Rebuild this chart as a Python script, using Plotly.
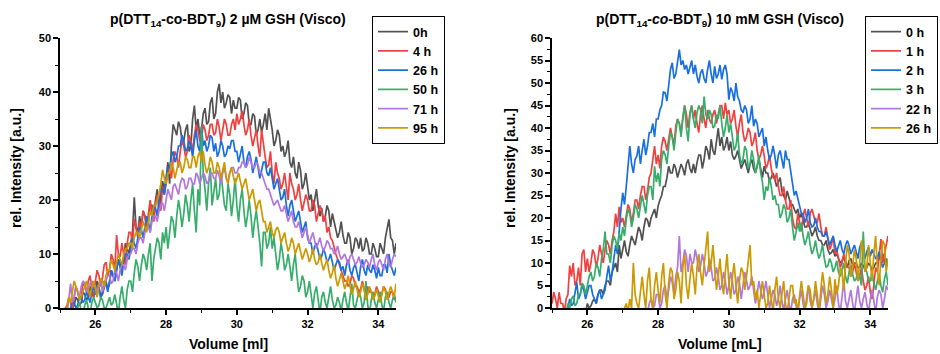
import plotly.graph_objects as go

# Elution volume grid [mL], 25.00 ... 34.50 in 0.05 mL steps
VOLUME = [round(25.0 + 0.05 * i, 2) for i in range(191)]

# ---------- Left panel: 2 µM GSH ----------
LEFT_LABELS = ["0h", "4 h", "26 h", "50 h", "71 h", "95 h"]
L_0h = [-3, -3, -3, -2, -2, -1, -1, 0, 0.5, 2, 1.5, 0.5, 1, 3, 2.5, 1.5, 2, 4, 3, 2,
        3, 5, 4, 2, 2.5, 4, 5, 3.5, 4.5, 7, 6, 5, 7, 9, 8.5, 7, 9, 12, 11, 10,
        12, 14, 20.5, 15, 14, 17, 15, 18, 17, 15, 16, 19, 19, 17, 20, 22, 18, 21, 23.5, 22,
        24, 27, 23, 30, 34, 33, 32, 34.5, 33.5, 31, 31, 33, 34, 29, 30, 35, 37.5, 33, 35, 32,
        33, 36, 37, 34, 34.5, 38, 39, 35, 36, 40, 41.5, 38, 40, 37, 38, 39.5, 39, 36, 38.5, 37,
        37, 39, 38.5, 35, 36, 38, 37.5, 34, 34, 36, 35.5, 32, 33, 35, 32.5, 34, 36, 33, 37, 35,
        33, 30, 31, 33, 32, 29, 30, 28, 29, 31, 27, 26, 28, 25, 24, 27, 25.5, 22, 23, 25,
        22, 20, 21, 18, 20, 22, 19, 17, 18.5, 16, 17, 19, 18, 15, 17.5, 16, 15, 13, 14, 16,
        13.5, 12, 12, 14, 13, 10, 11, 13, 12.5, 11, 13, 10.5, 11, 13, 12, 10, 10, 12, 11, 9.5,
        9.5, 12, 11, 10, 13, 15, 16.4, 13, 12.5, 10, 12]
L_4h = [-2, -1, -1, 0, 0.5, 2, 1, -0.5, 2, 4, 3, 1.5, 2, 5, 4, 3, 5, 6, 3.5, 2,
        5, 7, 6, 4, 5.5, 8, 8.5, 6, 7, 10, 9, 7, 13.5, 10, 9.5, 12, 10, 8, 12, 14,
        14, 12, 16.5, 15, 13, 16, 15, 18, 17, 15, 18, 20, 17.5, 16, 19, 21, 20, 18, 22.5, 21,
        23, 25, 26, 24, 27.5, 29, 28, 26, 29, 31, 30, 28, 29, 32, 31, 29, 32, 34, 33, 31,
        31, 34, 33, 31, 32, 34, 34, 32, 32.5, 35, 33.5, 31, 33, 35, 34, 32, 32, 34, 35, 33,
        36, 34, 35, 36.5, 34, 32, 33, 35, 32, 30, 31.5, 33, 30, 28, 33, 30, 28, 26, 26.5, 29,
        25, 23, 27, 25, 24, 22, 23, 25, 22, 20, 25, 23, 22, 20, 21, 23, 20, 18, 19.5, 21,
        20, 18, 18, 20, 19, 16, 17.5, 19, 18, 16, 17, 14, 15, 13, 12.5, 11, 10, 9, 8, 7,
        6, 5, 5, 4, 4.5, 6, 5.5, 4, 4, 3, 3.5, 5, 3.4, 2, 4, 3, 3, 2, 2.5, 4,
        3, 2, 2.5, 4, 3.5, 2, 2, 3, 3, 1.5, 2]
L_26h = [-3, -3, -2, -2, -1, -0.5, 0, 1, 1, 0, 0.5, 2, 2, 1, 1.5, 3, 2, 1, 3, 4,
         2.5, 4, 3.5, 2, 3, 5, 4.5, 3, 5, 7, 6, 5, 7, 9, 7.5, 6, 8.5, 10, 10, 9,
         11, 13, 12, 11, 13, 15, 14.5, 13, 15, 17, 16, 14, 17, 19, 18.5, 17, 20, 22, 22, 21,
         24, 26, 26, 28, 29, 27, 28, 30, 30, 32, 31, 29, 29.5, 31, 30, 28, 31, 33, 30, 29,
         33.6, 30, 31, 29, 30, 32, 31.5, 29, 30.5, 28, 29, 31, 30, 28, 28.5, 30, 29.5, 31, 31, 29,
         29, 27, 28.5, 30, 27, 26, 28, 29, 27.5, 25, 26.5, 28, 26, 24, 25.5, 27, 27, 25, 24.5, 26,
         24, 22, 23, 24, 22, 20, 20.5, 22, 19, 17, 19, 20, 18, 16, 17, 18, 16, 14, 15, 16,
         13, 12, 12, 10, 11.4, 12, 10.5, 9, 9.6, 11, 10, 8.5, 9, 10, 8.5, 7, 8, 9, 8.5, 7,
         7.7, 6, 8, 9, 7, 6, 7.5, 8, 6.5, 5, 7.7, 9, 7, 6, 8, 7, 6.5, 8, 7, 5.5,
         7.5, 6, 6, 8, 8, 6.5, 10, 8, 7, 6, 7.5]
L_50h = [-3, -3, -3, -2, -2, -1, -1, 0, -1, -2, 0, 1, -0.5, -1, 0.5, 1.5, 0, -1, 1, 2,
         1, 0, 0.5, 2, 1.5, 0, 0, 1, 2, 0.5, 1, 2.5, 0.5, -1, 2, 4, 1.5, 0, 3.4, 5,
         5, 3, 6.5, 9, 7.7, 5, 8, 10, 9, 7, 10, 12, 5, 9, 11, 13, 12, 9, 14, 12,
         15, 11, 14, 17, 16, 13, 17, 20, 18, 15, 17.5, 21, 19, 16, 20, 23, 18, 14, 22, 19,
         33.6, 25, 22, 18, 23, 26, 19, 22, 24, 20, 21, 25, 22.5, 19, 18, 23, 21, 17, 20, 24,
         19, 16, 20, 22, 18, 15, 17, 20, 17, 13, 16, 18, 15, 12, 7.7, 14, 14, 11, 12, 15,
         11, 13, 10, 7, 9, 12, 10, 7, 8, 10, 7.7, 5, 8, 10, 6, 3, 4, 6, 5, 2,
         3, 5, 2.5, 0, 2.8, 4, 1.5, -1, 2, 3, 1, 0, 2, 4, 1.5, 0, 0.5, 2, 1, -0.5,
         1.5, 3, 1, -0.5, 2, 4.5, 0.5, 0, 1.5, 3, 2, 0, 1, 5, 0.5, -1, 1.5, 3, 1, 0,
         1.5, 3, 0.5, -0.5, 2, 3, 1, 0, 1.5, 2.5, 1]
L_71h = [-3, -3, -2, -1, -1, 2, 4.5, 1, 2, 4, 3, 2, 4, 5, 4.5, 3, 3.5, 4.5, 5, 4,
         4, 3, 4.5, 5, 3, 4, 5, 6, 6, 4.5, 5, 7, 6.5, 5, 7, 8, 8, 7, 9, 10,
         10, 11, 11, 10, 12, 13, 13, 12, 14, 15, 15, 14, 16, 17, 17, 16, 18, 19, 19.5, 18,
         20, 22, 21, 20, 22.5, 23, 22, 21, 23, 24, 23.8, 22, 22.5, 24, 24, 23, 23, 25, 24.4, 23,
         24, 25, 24.4, 23, 23.5, 25, 25, 24, 24, 25.5, 24.5, 23, 25, 26, 24, 23.5, 25, 26, 26, 25,
         25, 26, 26, 27, 27, 26, 26.5, 28, 27, 26, 26, 27, 26.5, 25, 25, 24, 23, 22, 22, 21,
         20, 19, 19.5, 20, 19, 18, 18, 19, 17.5, 16, 17, 18, 16, 15, 15, 16, 14.5, 13, 14, 15,
         13.5, 12, 13, 14, 12.5, 11, 12, 13, 11.5, 10.5, 11.4, 12.5, 12, 11, 11, 10, 10.5, 11.5, 10, 9,
         9.5, 10, 9, 8, 9.5, 10, 9, 8, 8.5, 9.5, 8.3, 7.5, 8, 9, 8.5, 7.5, 9, 10, 8, 7,
         8.5, 9, 8, 7, 9, 10, 8.3, 7.5, 9, 10, 9.5]
L_95h = [-3, -3, -2, -1, 0, 2, 1, 3, 5, 4, 3, 1.5, 2, 3, 4, 5, 3.5, 2, 4, 5,
         3.5, 2, 4, 5.5, 5, 4, 6, 7, 7, 9, 8, 7, 8.5, 10, 9, 8, 10, 11, 11, 12,
         12, 11, 13, 14, 14, 13, 14.5, 16, 15, 14, 16, 18, 17, 19, 19, 20, 21, 23, 25.6, 24,
         23, 25, 25, 27, 26, 24, 25.5, 27, 27, 25, 26, 28, 27.5, 26, 26, 28, 28, 26, 28, 29,
         27, 29, 26.5, 25, 26, 28, 27, 25, 25, 27, 26, 24, 25.5, 27, 24, 23, 25, 26, 24.4, 23,
         24, 25, 23.5, 22, 23, 24, 22, 20, 21, 22, 20, 18, 19.4, 20, 18, 16, 16, 14, 15, 16,
         14, 13, 14.5, 15, 14, 12, 13, 14, 12, 10.5, 11.4, 13, 12, 10, 11, 12, 10.5, 9, 10, 11,
         10, 8.5, 9.5, 11, 9, 8, 8.5, 10, 8.3, 7, 8, 9, 7, 5.5, 6.5, 8, 5.5, 4, 5.2, 6.5,
         5, 3.5, 4.5, 6, 4, 2.5, 3.5, 5, 3.4, 2, 3, 4.5, 3.5, 1.5, 2.5, 4, 3, 1.5, 2.2, 3.5,
         2.2, 1, 2.5, 4, 3, 1.5, 2.8, 4, 3, 2, 4.5]

# ---------- Right panel: 10 mM GSH ----------
RIGHT_LABELS = ["0 h", "1 h", "2 h", "3 h", "22 h", "26 h"]
R_0h = [-3, -3, -3, -3, -3, -3, -3, -3, -2, -3, -2, -2, -2, -2, -1, -2, -1, -1, 0, -1,
        1, 0, 0.5, 1.5, 2, 1, 3, 4, 4, 3, 5, 6, 6, 5, 8, 9, 10, 8, 14, 11,
        13, 15, 12.5, 11.5, 14, 16, 15, 14, 16, 18, 17, 15, 18, 20, 19.5, 18, 20, 21, 22, 20,
        22.7, 24, 25, 27, 27, 29, 31.5, 30, 30, 32, 31, 29, 30.5, 32, 31, 29.5, 32, 33, 31, 30,
        32, 30, 32.3, 34, 34, 31, 33, 36, 35, 33, 37.5, 35, 34, 37, 40, 36, 38, 35, 36, 38,
        35, 37, 34, 33, 33.8, 35, 33, 31, 32, 33, 31.5, 30, 32, 33, 31, 30, 31.5, 33, 31, 29,
        31.5, 30, 30, 28, 29, 30, 28.6, 27, 28, 29, 26, 25, 24, 26, 24.5, 23, 23, 22, 21, 22,
        20, 21, 19.7, 18, 18, 19, 17.5, 16, 16.8, 18, 16, 15, 15, 14, 14, 15, 13, 12, 12.3, 13,
        11.5, 12, 11, 10, 10.5, 11.5, 10, 9, 10.5, 11, 9.5, 10, 10, 9, 9, 10, 9.4, 8.5, 9, 10,
        9.4, 8.5, 9, 10, 10, 11, 11, 12, 10.5, 9.5, 10.9]
R_1h = [1, 3.5, 2, 0, 3.5, 1, 1, -1, 2, 3, 9.4, 7, 10, 5, 6, 9, 5, 12, 13, 8,
        11, 8, 10, 13, 12, 9, 11, 14, 12, 10, 13, 15, 14, 12, 15, 17, 21, 18, 22.5, 19,
        20, 18, 20.5, 23, 22, 19, 21, 24, 24, 22, 25, 27, 27, 24, 26, 29, 30, 33, 36, 32,
        34, 31, 36, 38, 37, 35, 37.5, 40, 38, 36, 40.4, 42, 41, 39, 42, 45, 43, 40, 43.4, 45,
        42, 44, 41, 39, 43, 45, 42, 40, 44, 42, 41, 43, 44, 41, 43, 45, 45, 42, 45.6, 43,
        44, 41, 42, 44, 40.4, 38, 41, 43, 39, 37, 38, 40, 39, 36, 37, 39, 35, 33, 34, 36,
        33.8, 31, 32, 34, 31, 29, 28.6, 30, 27, 25, 25, 27, 24, 22, 22, 24, 20, 18, 17.5, 21,
        19, 17, 20.5, 22, 20, 18, 21, 22, 20.5, 19, 19, 21, 18, 16, 16, 18, 15.3, 13, 14, 16,
        12, 13, 11, 9, 10, 12, 10.5, 9, 9, 7, 8, 10, 7.9, 6, 7, 9, 6, 4, 5, 7,
        3.5, 2, 5, 9, 8, 12, 15.3, 10, 12, 14, 16]
R_2h = [-3, -3, -3, -3, -2, -3, -2, -1, -1, 0, 2, 0.5, 1, 3, 5.7, 2, 3, 5, 4, 2,
        3.5, 5, 5, 3, 2, 1, 3, 4, 2, 3, 4, 7, 9.4, 6, 8, 11, 14, 12, 18, 22,
        25.6, 23, 27, 31, 36, 32, 30, 33, 33.8, 36, 32, 35, 37.5, 34, 36, 39, 39, 41, 38, 42,
        42, 44, 45, 48, 47.8, 46, 50, 53, 54.5, 51, 52, 55, 57.4, 54, 55, 53, 54, 52, 53.7, 55,
        52, 54, 51.5, 50, 52.2, 53, 51, 50, 53, 55, 52, 50, 53.7, 51, 52, 54, 50.8, 53, 54, 52,
        46.3, 49, 48, 46, 50, 47, 46, 44, 43.4, 45, 44, 41, 42, 45, 40.4, 42, 41, 38, 39, 40,
        36, 38, 35, 33, 34, 36, 33.8, 31, 34, 35, 33, 31, 35, 33, 33, 30, 27, 25, 26, 24,
        22.7, 21, 21, 19, 20, 22, 19, 18, 18.3, 20, 18, 17, 17, 16, 16, 17, 15.3, 14, 15, 16,
        14, 12.5, 13.8, 15, 13, 12, 14, 15, 13.8, 12, 13, 14, 12.5, 11, 13.5, 14.5, 12, 11, 12.5, 13.5,
        11.5, 13, 12, 11, 11, 12.5, 10.5, 9, 10, 11, 9.4]
R_3h = [-3, -3, -3, -3, -3, -2, -2, -1, -1, 1, 0, 2, 2.7, 0.5, 1, 3, 3, 5.5, 5, 3,
        5, 7, 8, 6, 7, 10, 9, 7, 11, 13, 17, 12, 12, 10, 14, 16, 15, 13, 16.8, 15,
        18, 16, 19.7, 22, 21, 18, 20, 23, 22, 20, 22.7, 25, 23, 21, 25, 27, 27, 24, 31.5, 28,
        30, 27, 33, 35, 34, 32, 36, 39, 38, 35, 39, 42, 41, 38, 42.6, 45, 40, 37, 43, 45,
        42, 40, 43.4, 45, 44, 41, 47, 43, 42, 44, 43, 40, 40.4, 43, 42, 45, 41, 38, 40, 43,
        39, 41, 38, 35, 36, 39, 34, 32, 33, 36, 35, 31, 32, 35, 33, 30, 31.5, 34, 30, 28,
        24, 27, 26, 29, 27, 24, 25, 23, 23, 20, 21, 23, 22, 19, 20, 22, 18, 15, 16.8, 19,
        17, 19, 16, 14, 15.3, 17, 14, 12, 13, 15, 12.5, 11, 12.3, 14, 11, 9, 9.4, 11, 10, 8,
        9, 10.5, 8, 7, 8.5, 10, 7, 5.5, 8, 9.5, 7.5, 6, 6.5, 8, 7, 5, 17, 9, 8, 6,
        6, 8, 5.5, 4, 6, 7.5, 5, 3.5, 6.5, 8, 5]
R_22h = [-2, -2, -2, -2, -2, -2, -2, -2, -2, -2, -2, -2, -2, -2, -2, -2, -2, -2, -2, -2,
         -2, -2, -2, -2, -2, -2, -2, -2, -2, -2, -2, -2, -2, -2, -2, -2, -2, -2, -2, -2,
         -2, -2, -2, -2, -1, -2, -2, -2, -1, -2, -2, -2, 0, -1, -1, 1, 2, 0, 0.5, 3,
         3, 0, 1, 4, 5, 2, 4, 7, 5.7, 3, 7, 9, 16, 8, 10, 13, 11.6, 8, 12, 10,
         10, 13, 11, 8, 9.4, 12, 10, 7, 8, 11, 9, 6, 6.4, 9, 7, 4, 5, 8, 6, 3,
         5, 8, 6, 3, 4, 7, 5.5, 2, 5, 8, 6, 4, 5, 7, 4, 1, 3, 6, 4, 2,
         3.5, 6, 3, 0, 2, 4, 3, 0.5, 2, 5, 1.5, -0.5, 2, 4, 1, -1, 2, 3, 0.5, -1,
         2, 4, 1, -1, 2.5, 5, 1.5, 0, 2, 4, 1, -1, 2, 5, 3, 0, 1.5, 4, 2, 0,
         2, 5, 1, -1, 2.5, 6, 1.5, 0, 2, 4, 1, -1, 2, 5, 1.5, 0, 2, 3.5, 1, -1,
         2, 4, 1.5, -1, 2.5, 4, 3, 0, 2, 5, 4]
R_26h = [-2, -2, -2, -2, -2, -2, -2, -2, -2, -2, -2, -2, -2, -2, -2, -2, -2, -2, -2, -2,
         -2, -2, -2, -2, -2, -2, -2, -2, -2, -2, -2, -2, -2, -2, -2, -2, -2, -1, -1, 0,
         -1, 0, 1, -1, 2, 0, 10, 3, 1, 0, 4, 7, 3, 0, 6, 9, 2, 0, 5, 8,
         4, 1, 7, 10, 3, 0, 5.7, 9, 8, 2, 4, 8, 6, 1, 9, 12, 5, 2, 6.4, 10,
         7, 3, 9, 12, 8, 5, 9.4, 13, 17, 8, 10, 14, 8, 4, 7, 11, 6, 3, 8, 12,
         5.7, 2, 7, 10, 5, 1, 6, 9, 8, 4, 7, 11, 14, 5, 6, 2, 4, 0, 2.7, 6,
         3, 0, 1, 5, 2, -1, 4, 7, 2, 0, 3, 6, 1, -1, 2, 5, 5, 1, 2, -1,
         2.7, 6, 3, 0, 1, 5, 4, 0, 2, 6, 3, -1, 4, 8, 5, 1, 3, 7, 4, 0,
         6.4, 3, 5, 9, 8, 4, 10, 14, 12, 7, 9, 13, 11, 6, 10, 15, 13, 8, 9, 14,
         10, 6, 12, 16, 9, 5, 11, 15, 14, 8, 11]

COLORS = ["#515151", "#F14040", "#1A6FDF", "#37AD6B", "#B177DE", "#CC9900"]
FONT = "Liberation Sans, Arial, sans-serif"

fig = go.Figure()

left_series = [L_0h, L_4h, L_26h, L_50h, L_71h, L_95h]
right_series = [R_0h, R_1h, R_2h, R_3h, R_22h, R_26h]

for name, ys, c in zip(LEFT_LABELS, left_series, COLORS):
    fig.add_trace(go.Scatter(x=VOLUME[:len(ys)], y=ys, mode="lines", name=name,
                             line=dict(color=c, width=1.7),
                             xaxis="x", yaxis="y", legend="legend"))
for name, ys, c in zip(RIGHT_LABELS, right_series, COLORS):
    fig.add_trace(go.Scatter(x=VOLUME[:len(ys)], y=ys, mode="lines", name=name,
                             line=dict(color=c, width=1.7),
                             xaxis="x2", yaxis="y2", legend="legend2"))

tickfont = dict(family=FONT, size=11, color="black", weight="bold")

def xax(domain, anchor):
    return dict(domain=domain, anchor=anchor, range=[25, 34.5],
                tick0=26, dtick=2, showline=True, linecolor="black",
                linewidth=1.5, ticks="outside", ticklen=5, tickwidth=1.5,
                tickcolor="black", showgrid=False, zeroline=False,
                tickfont=tickfont, automargin=False,
                minor=dict(dtick=1, tick0=25, ticks="outside", ticklen=3,
                           tickwidth=1.2, tickcolor="black", showgrid=False))

def yax(domain, rng, dtick, mdtick, anchor):
    return dict(domain=domain, anchor=anchor, range=rng, tick0=0,
                dtick=dtick, showline=True, linecolor="black", linewidth=1.5,
                ticks="outside", ticklen=5, tickwidth=1.5, tickcolor="black",
                showgrid=False, zeroline=False, tickfont=tickfont,
                automargin=False,
                minor=dict(dtick=mdtick, tick0=0, ticks="outside", ticklen=3,
                           tickwidth=1.2, tickcolor="black", showgrid=False))

ydom = [46 / 354, 316 / 354]
legend_common = dict(bgcolor="white", bordercolor="black", borderwidth=1,
                     font=dict(family=FONT, size=12.5, color="black",
                               weight="bold"),
                     yanchor="top", xanchor="left", tracegroupgap=0,
                     itemwidth=30)

def note(text, x, y, size, angle=0):
    return dict(text=text, x=x / 940, y=1 - y / 354, xref="paper",
                yref="paper", showarrow=False, xanchor="center",
                yanchor="middle", textangle=angle,
                font=dict(family=FONT, size=size, color="black",
                          weight="bold"))

fig.update_layout(
    width=940, height=354,
    margin=dict(l=0, r=0, t=0, b=0),
    paper_bgcolor="white", plot_bgcolor="white",
    xaxis=xax([60 / 940, 396 / 940], "y"),
    yaxis=yax(ydom, [0, 50], 10, 5, "x"),
    xaxis2=xax([552 / 940, 888 / 940], "y2"),
    yaxis2=yax(ydom, [0, 60], 5, 2.5, "x2"),
    legend=dict(x=372 / 940, y=1 - 16 / 354, **legend_common),
    legend2=dict(x=865 / 940, y=1 - 16 / 354, **legend_common),
    annotations=[
        note("p(DTT<sub>14</sub>-co-BDT<sub>9</sub>) 2 µM GSH (Visco)", 228, 20, 14),
        note("p(DTT<sub>14</sub>-<i>co</i>-BDT<sub>9</sub>) 10 mM GSH (Visco)", 720, 20, 14),
        note("Volume [ml]", 228, 344, 14),
        note("Volume [mL]", 720, 344, 14),
        note("rel. Intensity [a.u.]", 16, 168, 14, -90),
        note("rel. Intensity [a.u.]", 510, 168, 14, -90),
    ],
)

fig.write_html(
    "out.html",
    config={"displayModeBar": False},
    post_script="document.body.style.margin='0';"
                "document.body.style.overflow='hidden';",
)
